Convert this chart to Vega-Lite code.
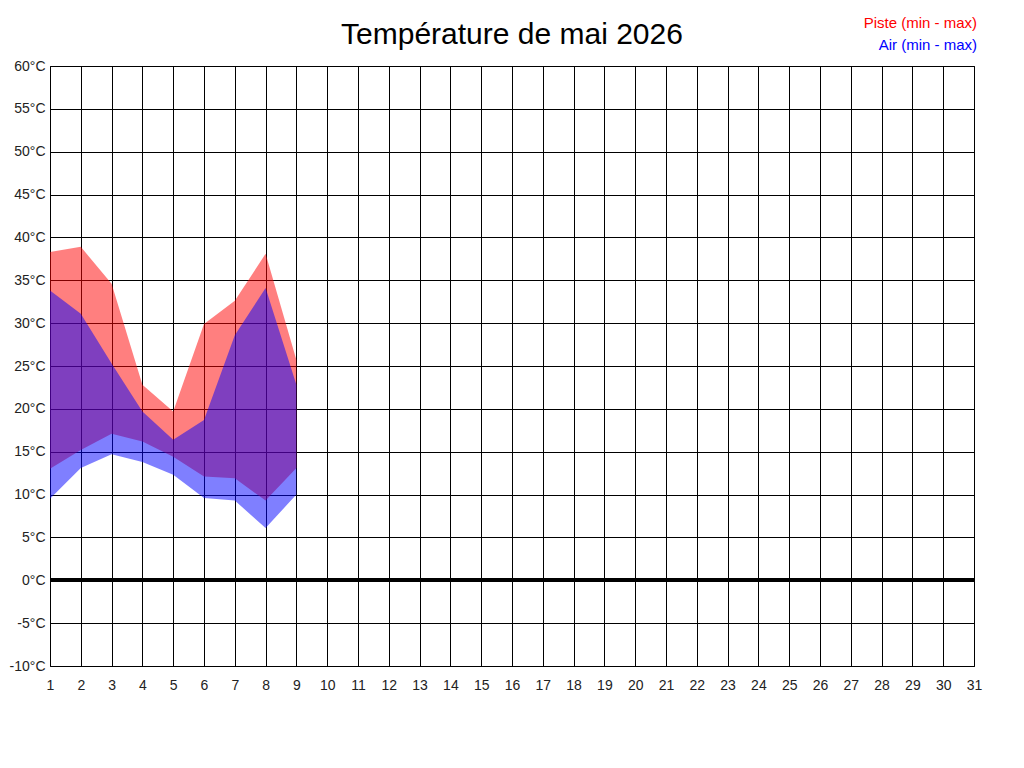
{
  "$schema": "https://vega.github.io/schema/vega-lite/v6.json",
  "title": {
    "text": "Température de mai 2026",
    "font": "Liberation Sans",
    "fontSize": 30,
    "fontWeight": "normal",
    "color": "#000000",
    "anchor": "middle",
    "frame": "group",
    "baseline": "alphabetic",
    "offset": -59
  },
  "width": 924,
  "height": 600,
  "autosize": {"type": "none"},
  "padding": {"left": 50, "top": 66, "right": 50, "bottom": 102},
  "background": "#ffffff",
  "config": {
    "view": {"stroke": "#000000", "strokeWidth": 1},
    "axis": {
      "labelFont": "Liberation Sans",
      "labelFontSize": 14,
      "labelColor": "#222222",
      "grid": true,
      "gridColor": "#000000",
      "gridOpacity": 1,
      "gridWidth": 1,
      "domain": false,
      "ticks": false,
      "title": null
    }
  },
  "data": {
    "values": [
      {"jour": 1, "serie": "Piste (min - max)", "min": 13.0, "max": 38.3},
      {"jour": 2, "serie": "Piste (min - max)", "min": 15.2, "max": 38.9},
      {"jour": 3, "serie": "Piste (min - max)", "min": 17.1, "max": 34.6},
      {"jour": 4, "serie": "Piste (min - max)", "min": 16.2, "max": 22.8},
      {"jour": 5, "serie": "Piste (min - max)", "min": 14.4, "max": 19.7},
      {"jour": 6, "serie": "Piste (min - max)", "min": 12.1, "max": 29.9},
      {"jour": 7, "serie": "Piste (min - max)", "min": 11.9, "max": 32.6},
      {"jour": 8, "serie": "Piste (min - max)", "min": 9.3, "max": 38.1},
      {"jour": 9, "serie": "Piste (min - max)", "min": 13.1, "max": 25.7},
      {"jour": 1, "serie": "Air (min - max)", "min": 9.5, "max": 33.8},
      {"jour": 2, "serie": "Air (min - max)", "min": 13.1, "max": 31.1},
      {"jour": 3, "serie": "Air (min - max)", "min": 14.7, "max": 25.3},
      {"jour": 4, "serie": "Air (min - max)", "min": 13.8, "max": 19.7},
      {"jour": 5, "serie": "Air (min - max)", "min": 12.3, "max": 16.4},
      {"jour": 6, "serie": "Air (min - max)", "min": 9.6, "max": 18.7},
      {"jour": 7, "serie": "Air (min - max)", "min": 9.3, "max": 28.6},
      {"jour": 8, "serie": "Air (min - max)", "min": 6.1, "max": 34.1},
      {"jour": 9, "serie": "Air (min - max)", "min": 10.0, "max": 22.8}
    ]
  },
  "encoding": {
    "x": {
      "field": "jour",
      "type": "quantitative",
      "scale": {"domain": [1, 31], "nice": false, "zero": false},
      "axis": {
        "values": [1, 2, 3, 4, 5, 6, 7, 8, 9, 10, 11, 12, 13, 14, 15, 16, 17, 18, 19, 20, 21, 22, 23, 24, 25, 26, 27, 28, 29, 30, 31],
        "labelPadding": 12,
        "labelFlush": false,
        "labelOverlap": false
      }
    },
    "y": {
      "field": "max",
      "type": "quantitative",
      "scale": {"domain": [-10, 60], "nice": false, "zero": false},
      "axis": {
        "values": [-10, -5, 0, 5, 10, 15, 20, 25, 30, 35, 40, 45, 50, 55, 60],
        "labelExpr": "datum.value + '°C'",
        "labelPadding": 5,
        "labelFlush": false,
        "labelOverlap": false
      }
    }
  },
  "layer": [
    {
      "transform": [{"filter": "datum.serie == 'Piste (min - max)'"}],
      "mark": {"type": "area", "opacity": 0.5},
      "encoding": {
        "y2": {"field": "min"},
        "color": {
          "field": "serie",
          "type": "nominal",
          "scale": {"domain": ["Piste (min - max)", "Air (min - max)"], "range": ["#ff0000", "#0000ff"]},
          "legend": {
            "title": null,
            "orient": "none",
            "legendX": 912,
            "legendY": -51,
            "direction": "vertical",
            "labelFont": "Liberation Sans",
            "labelFontSize": 15,
            "labelAlign": "right",
            "labelOffset": 0,
            "labelLimit": 0,
            "symbolSize": 0,
            "symbolOpacity": 0,
            "symbolStrokeWidth": 0,
            "rowPadding": 6,
            "padding": 0,
            "encode": {
              "labels": {
                "update": {
                  "fill": {"signal": "datum.value == 'Air (min - max)' ? '#0000ff' : '#ff0000'"}
                }
              }
            }
          }
        }
      }
    },
    {
      "transform": [{"filter": "datum.serie == 'Air (min - max)'"}],
      "mark": {"type": "area", "opacity": 0.5},
      "encoding": {
        "y2": {"field": "min"},
        "color": {"field": "serie", "type": "nominal"}
      }
    },
    {
      "mark": {"type": "rule", "color": "#000000", "strokeWidth": 3},
      "encoding": {"x": null, "y": {"datum": 0}}
    }
  ]
}
